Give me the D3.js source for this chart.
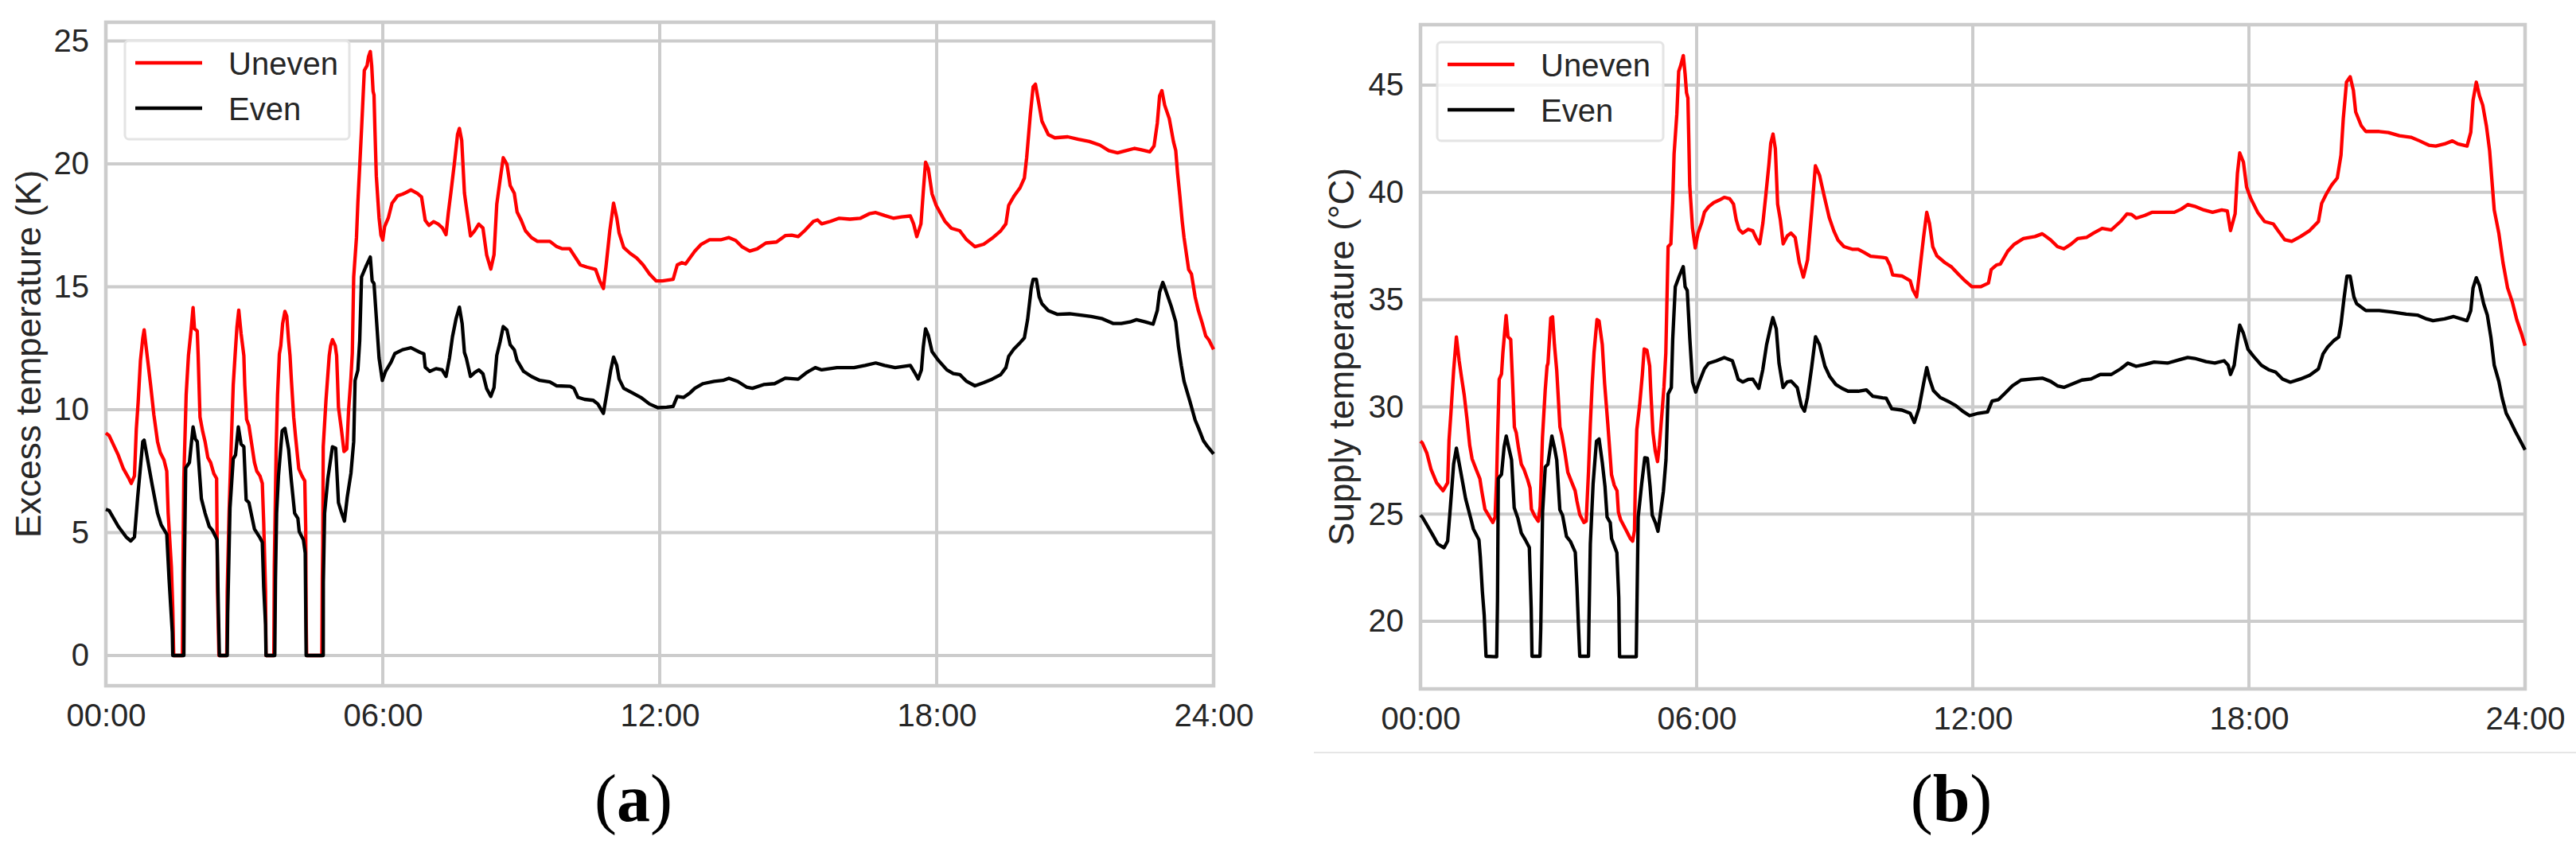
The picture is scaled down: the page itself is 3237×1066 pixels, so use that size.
<!DOCTYPE html>
<html>
<head>
<meta charset="utf-8">
<script src="https://cdn.jsdelivr.net/npm/d3@7"></script>
<style>
  html, body { margin: 0; padding: 0; background: #fff; }
  svg { display: block; }
</style>
</head>
<body>
<svg id="chart" width="3237" height="1066"></svg>
<script>
// =========================
// DATA
// =========================

const hourTicks = [0, 6, 12, 18, 24];
const hourLabels = ['00:00', '06:00', '12:00', '18:00', '24:00'];
const excessTicks = [0, 5, 10, 15, 20, 25];
const supplyTicks = [20, 25, 30, 35, 40, 45];
const seriesNames = ['Uneven', 'Even'];
const seriesColors = ['#ff0000', '#000000'];

// [hour, K]
const excessUneven = [
  [0, 9.05], [0.07, 8.95], [0.27, 8.15], [0.38, 7.6], [0.5, 7.2], [0.55, 7.0], [0.62, 7.3], [0.66, 9.2],
  [0.7, 10.3], [0.75, 12.0], [0.8, 12.9], [0.83, 13.25], [0.87, 12.6], [0.92, 11.8], [0.97, 11.0],
  [1.04, 9.8], [1.12, 8.7], [1.18, 8.25], [1.26, 7.95], [1.32, 7.5], [1.35, 5.8], [1.42, 3.6], [1.45, 1.9],
  [1.47, 0], [1.66, 0], [1.67, 3.3], [1.69, 7.2], [1.74, 10.6], [1.79, 12.2], [1.85, 13.3], [1.89, 14.15],
  [1.92, 13.3], [1.98, 13.2], [2.0, 12.2], [2.04, 9.7], [2.1, 9.1], [2.15, 8.7], [2.21, 8.05], [2.27, 7.85],
  [2.34, 7.4], [2.4, 7.2], [2.41, 4.9], [2.42, 2.6], [2.45, 0], [2.62, 0], [2.63, 2.6], [2.67, 5.8],
  [2.71, 8.2], [2.76, 11.0], [2.8, 12.2], [2.84, 13.35], [2.88, 14.05], [2.93, 13.1], [2.99, 12.2],
  [3.01, 11.0], [3.05, 9.6], [3.1, 9.35], [3.16, 8.6], [3.22, 7.85], [3.27, 7.5], [3.34, 7.3], [3.39, 7.0],
  [3.42, 5.4], [3.46, 2.6], [3.47, 0], [3.64, 0], [3.65, 3.6], [3.69, 8.4], [3.72, 10.6], [3.76, 12.27],
  [3.79, 12.6], [3.83, 13.5], [3.88, 14.0], [3.92, 13.8], [3.96, 12.8], [3.99, 12.2], [4.02, 11.2],
  [4.07, 9.7], [4.11, 8.9], [4.18, 7.6], [4.25, 7.3], [4.31, 7.1], [4.33, 5.2], [4.34, 1.5], [4.35, 0],
  [4.68, 0], [4.69, 3.1], [4.7, 4.5], [4.71, 8.5], [4.77, 10.4], [4.84, 12.2], [4.87, 12.6], [4.91, 12.85],
  [4.97, 12.6], [5.0, 12.2], [5.02, 11.2], [5.04, 10.1], [5.1, 9.25], [5.16, 8.3], [5.22, 8.4], [5.26, 10.0],
  [5.31, 11.3], [5.34, 12.3], [5.37, 15.4], [5.43, 17.0], [5.46, 18.4], [5.5, 19.9], [5.54, 21.4],
  [5.6, 23.8], [5.66, 24.0], [5.69, 24.35], [5.73, 24.57], [5.76, 24.0], [5.79, 22.95], [5.81, 22.8],
  [5.83, 21.4], [5.86, 19.5], [5.92, 17.8], [5.96, 17.1], [6.0, 16.9], [6.04, 17.45], [6.12, 17.8],
  [6.2, 18.4], [6.32, 18.7], [6.43, 18.77], [6.52, 18.85], [6.61, 18.94], [6.75, 18.8], [6.84, 18.65],
  [6.92, 17.7], [7.0, 17.5], [7.1, 17.65], [7.2, 17.55], [7.29, 17.4], [7.37, 17.12], [7.42, 18.0],
  [7.48, 18.9], [7.55, 20.0], [7.62, 21.2], [7.66, 21.44], [7.71, 20.96], [7.77, 18.8], [7.81, 18.25],
  [7.9, 17.07], [7.99, 17.28], [8.08, 17.55], [8.17, 17.39], [8.25, 16.3], [8.34, 15.72], [8.41, 16.3],
  [8.47, 18.36], [8.54, 19.33], [8.61, 20.25], [8.69, 19.98], [8.76, 19.12], [8.85, 18.8], [8.91, 18.04],
  [9.0, 17.7], [9.09, 17.28], [9.22, 17.0], [9.35, 16.85], [9.49, 16.85], [9.62, 16.85], [9.77, 16.63],
  [9.88, 16.55], [10.05, 16.55], [10.19, 16.15], [10.28, 15.89], [10.42, 15.8], [10.61, 15.71],
  [10.7, 15.24], [10.78, 14.93], [10.84, 15.89], [10.92, 17.3], [11.0, 18.4], [11.07, 17.8], [11.12, 17.19],
  [11.22, 16.6], [11.36, 16.36], [11.5, 16.17], [11.64, 15.89], [11.78, 15.52], [11.92, 15.24],
  [12.06, 15.24], [12.29, 15.3], [12.38, 15.89], [12.48, 15.98], [12.56, 15.93], [12.76, 16.45],
  [12.9, 16.73], [13.08, 16.91], [13.32, 16.91], [13.5, 17.0], [13.65, 16.88], [13.78, 16.63],
  [13.95, 16.45], [14.11, 16.54], [14.3, 16.78], [14.53, 16.82], [14.72, 17.08], [14.86, 17.1],
  [15.0, 17.04], [15.14, 17.28], [15.33, 17.66], [15.42, 17.72], [15.51, 17.56], [15.7, 17.66],
  [15.89, 17.79], [16.12, 17.75], [16.35, 17.79], [16.54, 17.97], [16.68, 18.02], [16.87, 17.9],
  [17.06, 17.79], [17.24, 17.84], [17.43, 17.88], [17.5, 17.56], [17.57, 17.04], [17.66, 17.56],
  [17.71, 18.86], [17.76, 20.07], [17.82, 19.8], [17.9, 18.78], [17.99, 18.31], [18.18, 17.66],
  [18.32, 17.38], [18.5, 17.28], [18.65, 16.91], [18.83, 16.63], [19.02, 16.73], [19.2, 16.97],
  [19.39, 17.28], [19.5, 17.56], [19.56, 18.31], [19.67, 18.67], [19.81, 19.04], [19.9, 19.42],
  [19.95, 20.25], [20.03, 22.02], [20.09, 23.13], [20.14, 23.24], [20.22, 22.39], [20.28, 21.74],
  [20.42, 21.19], [20.56, 21.06], [20.84, 21.1], [21.07, 21.0], [21.31, 20.91], [21.54, 20.76],
  [21.73, 20.54], [21.92, 20.45], [22.1, 20.54], [22.29, 20.63], [22.42, 20.58], [22.62, 20.49],
  [22.71, 20.73], [22.78, 21.65], [22.83, 22.76], [22.88, 22.98], [22.94, 22.39], [23.04, 21.84],
  [23.13, 20.91], [23.18, 20.54], [23.22, 19.61], [23.27, 18.68], [23.32, 17.66], [23.36, 17.0],
  [23.46, 15.7], [23.52, 15.52], [23.6, 14.59], [23.67, 14.03], [23.76, 13.48], [23.83, 13.0],
  [23.9, 12.83], [24.0, 12.45]
];

const excessEven = [
  [0, 5.95], [0.07, 5.9], [0.27, 5.25], [0.44, 4.82], [0.54, 4.66], [0.62, 4.82], [0.69, 6.44], [0.8, 8.7],
  [0.83, 8.76], [1.0, 6.98], [1.12, 5.79], [1.2, 5.31], [1.32, 4.93], [1.37, 3.1], [1.44, 0.94], [1.45, 0],
  [1.69, 0], [1.7, 3.3], [1.73, 7.63], [1.81, 7.85], [1.89, 9.3], [1.94, 8.8], [1.98, 8.7], [2.07, 6.38],
  [2.15, 5.79], [2.24, 5.25], [2.31, 5.09], [2.41, 4.71], [2.44, 1.69], [2.46, 0], [2.63, 0], [2.64, 1.7],
  [2.69, 6.0], [2.76, 8.0], [2.81, 8.16], [2.87, 9.3], [2.93, 8.6], [2.99, 8.49], [3.04, 6.33], [3.1, 6.22],
  [3.22, 5.14], [3.33, 4.82], [3.39, 4.6], [3.42, 2.77], [3.46, 1.26], [3.47, 0], [3.66, 0], [3.675, 3.1],
  [3.7, 5.79], [3.74, 7.3], [3.82, 9.14], [3.88, 9.24], [3.96, 8.38], [4.02, 7.09], [4.09, 5.79],
  [4.16, 5.58], [4.19, 5.04], [4.28, 4.71], [4.32, 4.17], [4.34, 0], [4.71, 0], [4.712, 2.98], [4.74, 5.79],
  [4.81, 7.2], [4.91, 8.49], [4.98, 8.43], [5.04, 6.22], [5.11, 5.79], [5.17, 5.47], [5.23, 6.44],
  [5.31, 7.41], [5.37, 8.7], [5.4, 11.19], [5.46, 11.6], [5.5, 12.8], [5.54, 15.4], [5.63, 15.8],
  [5.73, 16.21], [5.77, 15.24], [5.81, 15.13], [5.92, 12.1], [5.99, 11.19], [6.06, 11.56], [6.18, 11.94],
  [6.26, 12.28], [6.43, 12.44], [6.61, 12.52], [6.81, 12.33], [6.89, 12.27], [6.92, 11.73], [7.02, 11.56],
  [7.155, 11.67], [7.285, 11.62], [7.37, 11.35], [7.445, 12.1], [7.51, 12.97], [7.59, 13.72], [7.66, 14.17],
  [7.72, 13.5], [7.77, 12.32], [7.81, 12.1], [7.9, 11.35], [7.99, 11.51], [8.08, 11.62], [8.17, 11.46],
  [8.25, 10.86], [8.34, 10.54], [8.41, 10.9], [8.47, 12.21], [8.54, 12.75], [8.61, 13.38], [8.69, 13.24],
  [8.76, 12.64], [8.85, 12.43], [8.91, 12.0], [9.05, 11.56], [9.22, 11.35], [9.4, 11.19], [9.62, 11.13],
  [9.77, 10.97], [10.06, 10.95], [10.14, 10.87], [10.23, 10.5], [10.37, 10.42], [10.56, 10.38],
  [10.66, 10.23], [10.78, 9.85], [10.84, 10.5], [10.94, 11.62], [11.0, 12.14], [11.07, 11.8],
  [11.12, 11.25], [11.22, 10.87], [11.4, 10.69], [11.59, 10.5], [11.78, 10.23], [11.96, 10.08],
  [12.15, 10.1], [12.29, 10.13], [12.38, 10.54], [12.52, 10.5], [12.66, 10.69], [12.76, 10.87],
  [12.94, 11.06], [13.18, 11.15], [13.37, 11.19], [13.5, 11.28], [13.69, 11.15], [13.88, 10.92],
  [14.01, 10.87], [14.25, 11.02], [14.49, 11.06], [14.72, 11.28], [15.0, 11.24], [15.19, 11.52],
  [15.37, 11.71], [15.51, 11.62], [15.84, 11.71], [16.21, 11.71], [16.45, 11.8], [16.68, 11.9],
  [16.87, 11.8], [17.1, 11.71], [17.43, 11.8], [17.52, 11.52], [17.6, 11.25], [17.67, 11.62],
  [17.71, 12.55], [17.76, 13.29], [17.82, 13.02], [17.9, 12.36], [18.04, 12.0], [18.22, 11.62],
  [18.36, 11.47], [18.5, 11.43], [18.65, 11.15], [18.83, 10.97], [19.02, 11.1], [19.2, 11.24],
  [19.39, 11.43], [19.5, 11.71], [19.56, 12.17], [19.67, 12.46], [19.81, 12.73], [19.9, 12.92],
  [19.97, 13.66], [20.05, 14.96], [20.09, 15.3], [20.16, 15.3], [20.22, 14.6], [20.28, 14.31],
  [20.42, 14.03], [20.61, 13.88], [20.88, 13.9], [21.12, 13.85], [21.35, 13.79], [21.59, 13.7],
  [21.82, 13.51], [22.0, 13.51], [22.19, 13.57], [22.33, 13.66], [22.52, 13.57], [22.69, 13.48],
  [22.78, 14.03], [22.83, 14.78], [22.9, 15.18], [22.96, 14.87], [23.08, 14.22], [23.18, 13.57],
  [23.24, 12.55], [23.3, 11.8], [23.36, 11.15], [23.49, 10.32], [23.6, 9.58], [23.68, 9.22],
  [23.78, 8.74], [23.85, 8.55], [24.0, 8.2]
];

// [hour, °C]
const supplyUneven = [
  [0, 28.4], [0.04, 28.32], [0.14, 27.83], [0.23, 27.08], [0.35, 26.46], [0.49, 26.09], [0.59, 26.46],
  [0.62, 28.44], [0.66, 29.68], [0.72, 31.7], [0.78, 33.26], [0.84, 32.15], [0.89, 31.4], [0.95, 30.55],
  [1.01, 29.44], [1.07, 28.2], [1.12, 27.58], [1.21, 27.08], [1.29, 26.65], [1.33, 26.09], [1.4, 25.23],
  [1.47, 24.98], [1.57, 24.61], [1.62, 24.86], [1.655, 26.7], [1.673, 28.44], [1.71, 31.28], [1.76, 31.53],
  [1.79, 32.52], [1.86, 34.26], [1.9, 33.27], [1.96, 33.14], [2.0, 31.2], [2.04, 29.06], [2.08, 28.8],
  [2.13, 28.07], [2.19, 27.33], [2.25, 27.08], [2.33, 26.59], [2.38, 26.22], [2.41, 25.23], [2.48, 24.92],
  [2.56, 24.67], [2.6, 25.35], [2.65, 28.57], [2.71, 30.79], [2.75, 31.9], [2.77, 32.03], [2.83, 34.14],
  [2.87, 34.2], [2.91, 32.9], [2.96, 31.7], [3.03, 29.06], [3.07, 28.7], [3.14, 27.83], [3.2, 26.96],
  [3.29, 26.46], [3.36, 26.09], [3.4, 25.6], [3.46, 24.98], [3.55, 24.61], [3.6, 24.67], [3.65, 26.96],
  [3.69, 29.2], [3.73, 31.04], [3.77, 32.52], [3.835, 34.07], [3.88, 34.0], [3.95, 32.9], [4.0, 31.1],
  [4.07, 29.2], [4.15, 26.84], [4.21, 26.34], [4.27, 26.09], [4.3, 25.1], [4.35, 24.73], [4.47, 24.24],
  [4.56, 23.86], [4.61, 23.74], [4.65, 24.24], [4.67, 26.7], [4.7, 28.94], [4.76, 30.05], [4.82, 31.5],
  [4.86, 32.7], [4.92, 32.64], [4.98, 31.9], [5.0, 30.9], [5.05, 28.82], [5.1, 27.95], [5.15, 27.45],
  [5.19, 28.2], [5.25, 29.8], [5.29, 30.92], [5.33, 32.5], [5.38, 37.47], [5.44, 37.6], [5.48, 39.58],
  [5.51, 41.8], [5.57, 43.66], [5.61, 45.64], [5.65, 45.89], [5.71, 46.38], [5.75, 45.5], [5.78, 44.65],
  [5.81, 44.4], [5.83, 42.42], [5.85, 40.32], [5.91, 38.34], [5.97, 37.41], [6.03, 38.1], [6.11, 38.59],
  [6.17, 39.08], [6.26, 39.33], [6.37, 39.52], [6.49, 39.64], [6.6, 39.77], [6.72, 39.7], [6.8, 39.46],
  [6.86, 38.72], [6.92, 38.28], [7.0, 38.1], [7.12, 38.28], [7.22, 38.21], [7.3, 37.84], [7.37, 37.6],
  [7.44, 38.58], [7.5, 39.81], [7.57, 41.3], [7.61, 42.29], [7.66, 42.72], [7.71, 42.04], [7.76, 39.45],
  [7.82, 38.7], [7.88, 37.6], [7.97, 37.97], [8.05, 38.1], [8.14, 37.9], [8.23, 36.73], [8.32, 36.05],
  [8.41, 36.85], [8.5, 39.08], [8.58, 41.24], [8.67, 40.8], [8.76, 39.94], [8.88, 38.83], [8.98, 38.21],
  [9.07, 37.78], [9.2, 37.47], [9.38, 37.35], [9.51, 37.35], [9.64, 37.2], [9.78, 37.02], [10.04, 36.97],
  [10.12, 36.94], [10.2, 36.6], [10.26, 36.15], [10.46, 36.1], [10.64, 35.88], [10.7, 35.45],
  [10.78, 35.13], [10.84, 36.2], [10.93, 37.9], [11.0, 39.07], [11.06, 38.55], [11.13, 37.47],
  [11.22, 37.04], [11.39, 36.73], [11.54, 36.52], [11.68, 36.2], [11.83, 35.88], [11.98, 35.6],
  [12.17, 35.6], [12.34, 35.77], [12.4, 36.4], [12.52, 36.62], [12.6, 36.66], [12.76, 37.26],
  [12.9, 37.58], [13.1, 37.85], [13.35, 37.94], [13.51, 38.07], [13.69, 37.79], [13.84, 37.47],
  [13.98, 37.37], [14.13, 37.58], [14.28, 37.85], [14.47, 37.9], [14.62, 38.1], [14.81, 38.32],
  [15.01, 38.25], [15.21, 38.64], [15.35, 39.0], [15.45, 38.97], [15.55, 38.8], [15.74, 38.93],
  [15.89, 39.07], [16.13, 39.07], [16.38, 39.07], [16.53, 39.22], [16.67, 39.43], [16.82, 39.35],
  [17.02, 39.18], [17.21, 39.07], [17.41, 39.18], [17.53, 39.14], [17.6, 38.22], [17.7, 39.0],
  [17.75, 40.88], [17.8, 41.84], [17.88, 41.41], [17.95, 40.24], [18.04, 39.72], [18.19, 39.07],
  [18.34, 38.64], [18.53, 38.53], [18.63, 38.22], [18.78, 37.79], [18.93, 37.72], [19.12, 37.94],
  [19.32, 38.22], [19.51, 38.64], [19.58, 39.49], [19.68, 39.92], [19.8, 40.35], [19.92, 40.67],
  [20.0, 41.73], [20.05, 43.43], [20.12, 45.14], [20.2, 45.39], [20.27, 44.75], [20.32, 43.75],
  [20.44, 43.11], [20.54, 42.84], [20.83, 42.84], [21.03, 42.79], [21.27, 42.64], [21.52, 42.57],
  [21.71, 42.4], [21.91, 42.2], [22.06, 42.16], [22.25, 42.26], [22.42, 42.4], [22.54, 42.26],
  [22.74, 42.16], [22.82, 42.8], [22.87, 44.29], [22.94, 45.14], [23.01, 44.5], [23.08, 44.07],
  [23.16, 43.1], [23.23, 41.94], [23.33, 39.18], [23.43, 38.1], [23.52, 36.73], [23.62, 35.55],
  [23.72, 34.91], [23.82, 34.06], [23.92, 33.43], [24.0, 32.85]
];

const supplyEven = [
  [0, 24.95], [0.04, 24.86], [0.26, 24.05], [0.375, 23.61], [0.51, 23.43], [0.59, 23.74], [0.65, 25.35],
  [0.72, 27.33], [0.78, 28.07], [0.865, 27.08], [0.98, 25.72], [1.1, 24.73], [1.15, 24.3], [1.27, 23.8],
  [1.3, 23.0], [1.344, 21.4], [1.384, 20.29], [1.424, 18.37], [1.655, 18.35], [1.673, 20.97],
  [1.69, 26.66], [1.76, 26.85], [1.817, 28.14], [1.863, 28.64], [1.92, 28.08], [1.978, 27.53],
  [2.036, 25.3], [2.117, 24.8], [2.19, 24.12], [2.278, 23.8], [2.365, 23.44], [2.405, 20.6],
  [2.423, 18.37], [2.596, 18.37], [2.613, 19.67], [2.653, 25.1], [2.711, 27.2], [2.769, 27.33],
  [2.855, 28.64], [2.913, 28.07], [2.96, 27.53], [3.028, 25.2], [3.086, 24.95], [3.172, 23.96],
  [3.26, 23.72], [3.363, 23.22], [3.4, 21.6], [3.43, 19.9], [3.46, 18.37], [3.65, 18.37], [3.66, 19.9],
  [3.69, 23.6], [3.75, 26.4], [3.823, 28.4], [3.88, 28.5], [3.95, 27.4], [4.008, 26.3], [4.054, 24.86],
  [4.123, 24.6], [4.152, 23.86], [4.227, 23.43], [4.267, 23.2], [4.308, 21.1], [4.325, 18.35],
  [4.688, 18.35], [4.7, 20.29], [4.73, 24.86], [4.805, 26.4], [4.873, 27.63], [4.93, 27.6],
  [4.988, 26.3], [5.035, 24.95], [5.104, 24.6], [5.16, 24.2], [5.208, 24.95], [5.277, 26.05],
  [5.334, 27.53], [5.38, 30.6], [5.45, 30.9], [5.48, 33.14], [5.536, 35.6], [5.623, 36.1],
  [5.709, 36.54], [5.75, 35.6], [5.796, 35.43], [5.853, 33.14], [5.911, 31.16], [5.98, 30.69],
  [6.055, 31.16], [6.17, 31.78], [6.257, 32.03], [6.43, 32.15], [6.6, 32.3], [6.776, 32.15],
  [6.834, 31.77], [6.903, 31.28], [7.0, 31.16], [7.12, 31.28], [7.22, 31.29], [7.35, 30.86],
  [7.436, 31.72], [7.52, 32.9], [7.61, 33.76], [7.656, 34.16], [7.73, 33.64], [7.79, 32.03],
  [7.877, 30.9], [7.965, 31.16], [8.054, 31.2], [8.186, 30.9], [8.275, 30.05], [8.344, 29.8],
  [8.406, 30.42], [8.495, 31.78], [8.583, 33.27], [8.67, 32.9], [8.787, 31.9], [8.89, 31.42],
  [9.024, 31.04], [9.16, 30.86], [9.29, 30.73], [9.51, 30.73], [9.687, 30.79], [9.83, 30.49],
  [10.04, 30.42], [10.12, 30.4], [10.24, 29.91], [10.46, 29.85], [10.64, 29.7], [10.73, 29.27],
  [10.83, 29.93], [10.93, 31.08], [11.0, 31.83], [11.06, 31.3], [11.145, 30.76], [11.29, 30.44],
  [11.49, 30.23], [11.63, 30.06], [11.78, 29.8], [11.93, 29.59], [12.12, 29.7], [12.32, 29.76],
  [12.42, 30.27], [12.56, 30.34], [12.71, 30.66], [12.86, 30.98], [13.05, 31.25], [13.3, 31.3],
  [13.51, 31.34], [13.69, 31.19], [13.84, 30.98], [13.98, 30.91], [14.18, 31.08], [14.37, 31.25],
  [14.57, 31.3], [14.77, 31.51], [15.01, 31.51], [15.21, 31.77], [15.37, 32.04], [15.55, 31.89],
  [15.74, 31.98], [15.94, 32.09], [16.23, 32.04], [16.48, 32.19], [16.67, 32.3], [16.82, 32.26],
  [17.07, 32.11], [17.26, 32.04], [17.46, 32.15], [17.55, 31.94], [17.6, 31.51], [17.68, 31.94],
  [17.75, 33.1], [17.8, 33.81], [17.88, 33.43], [17.98, 32.68], [18.1, 32.36], [18.27, 31.94],
  [18.44, 31.72], [18.58, 31.62], [18.73, 31.3], [18.9, 31.15], [19.12, 31.3], [19.32, 31.47],
  [19.51, 31.77], [19.61, 32.47], [19.71, 32.79], [19.85, 33.1], [19.95, 33.25], [20.0, 33.85],
  [20.07, 35.13], [20.13, 36.09], [20.2, 36.09], [20.28, 35.13], [20.34, 34.81], [20.54, 34.49],
  [20.83, 34.49], [21.13, 34.42], [21.42, 34.32], [21.66, 34.28], [21.86, 34.1], [22.0, 34.02],
  [22.25, 34.1], [22.45, 34.21], [22.74, 34.02], [22.82, 34.49], [22.87, 35.55], [22.94, 36.02],
  [23.01, 35.66], [23.1, 34.81], [23.18, 34.28], [23.26, 33.21], [23.33, 31.94], [23.43, 31.19],
  [23.5, 30.44], [23.59, 29.7], [23.67, 29.38], [23.79, 28.85], [23.88, 28.49], [24.0, 28.0]
];

// =========================
// DRAW
// =========================

const svg = d3.select('#chart');
const fontSans = '"Liberation Sans", Arial, Helvetica, sans-serif';
const textColor = '#262626';
const gridColor = '#cccccc';

function createPanel(opts) {

  const x = d3.scaleLinear()
    .domain([0, 24])
    .range([opts.left, opts.right]);

  const y = d3.scaleLinear()
    .domain(opts.yDomain)
    .range([opts.bottom, opts.top]);

  const g = svg.append('g');

  // grid
  g.selectAll('.hgrid')
    .data(opts.yTicks)
    .join('line')
    .attr('x1', opts.left)
    .attr('x2', opts.right)
    .attr('y1', d => y(d))
    .attr('y2', d => y(d))
    .attr('stroke', gridColor)
    .attr('stroke-width', 4);

  g.selectAll('.vgrid')
    .data(hourTicks)
    .join('line')
    .attr('x1', d => x(d))
    .attr('x2', d => x(d))
    .attr('y1', opts.top)
    .attr('y2', opts.bottom)
    .attr('stroke', gridColor)
    .attr('stroke-width', 4);

  // frame
  g.append('rect')
    .attr('x', opts.left)
    .attr('y', opts.top)
    .attr('width', opts.right - opts.left)
    .attr('height', opts.bottom - opts.top)
    .attr('fill', 'none')
    .attr('stroke', gridColor)
    .attr('stroke-width', 4.5);

  // axes (labels only)
  const yAxis = g.append('g')
    .attr('transform', `translate(${opts.left}, 0)`)
    .call(d3.axisLeft(y).tickValues(opts.yTicks).tickSize(0).tickPadding(21));

  const xAxis = g.append('g')
    .attr('transform', `translate(0, ${opts.bottom})`)
    .call(d3.axisBottom(x).tickValues(hourTicks).tickSize(0).tickPadding(23)
      .tickFormat((d, i) => hourLabels[i]));

  [yAxis, xAxis].forEach(ax => {
    ax.select('.domain').remove();
    ax.selectAll('text')
      .attr('fill', textColor)
      .style('font-family', fontSans)
      .style('font-size', '40px');
  });

  // y label
  g.append('text')
    .attr('transform', `translate(${opts.labelX}, ${(opts.top + opts.bottom) / 2}) rotate(-90)`)
    .attr('text-anchor', 'middle')
    .attr('fill', textColor)
    .style('font-family', fontSans)
    .style('font-size', '44px')
    .text(opts.yLabel);

  // lines
  const line = d3.line()
    .x(d => x(d[0]))
    .y(d => y(d[1]));

  opts.series.forEach((data, i) => {
    g.append('path')
      .datum(data)
      .attr('d', line)
      .attr('fill', 'none')
      .attr('stroke', seriesColors[i])
      .attr('stroke-width', 4.3)
      .attr('stroke-linejoin', 'round');
  });

  // legend
  const lg = opts.legend;
  g.append('rect')
    .attr('x', lg.x)
    .attr('y', lg.y)
    .attr('width', lg.w)
    .attr('height', lg.h)
    .attr('rx', 5)
    .attr('fill', '#ffffff')
    .attr('fill-opacity', 0.8)
    .attr('stroke', '#e4e4e4')
    .attr('stroke-width', 3);

  seriesNames.forEach((name, i) => {
    const ly = lg.y + 28 + i * 57;
    g.append('line')
      .attr('x1', lg.x + 13)
      .attr('x2', lg.x + 97)
      .attr('y1', ly)
      .attr('y2', ly)
      .attr('stroke', seriesColors[i])
      .attr('stroke-width', 4.3);

    g.append('text')
      .attr('x', lg.x + 130)
      .attr('y', ly + 14.5)
      .attr('fill', textColor)
      .style('font-family', fontSans)
      .style('font-size', '40px')
      .text(name);
  });

  // sub caption
  const cap = g.append('text')
    .attr('x', opts.capX)
    .attr('y', 1032)
    .attr('text-anchor', 'middle')
    .attr('fill', '#000')
    .style('font-family', '"Liberation Serif", "Times New Roman", serif')
    .style('font-size', '84px');
  cap.append('tspan').text('(');
  cap.append('tspan').style('font-weight', 'bold').text(opts.cap);
  cap.append('tspan').text(')');
}

createPanel({
  left: 133, right: 1525, top: 28, bottom: 862,
  yDomain: [-1.23, 25.76],
  yTicks: excessTicks,
  yLabel: 'Excess temperature (K)',
  labelX: 51,
  series: [excessUneven, excessEven],
  legend: { x: 157, y: 51, w: 282, h: 124 },
  capX: 796, cap: 'a'
});

createPanel({
  left: 1785, right: 3173, top: 31, bottom: 866,
  yDomain: [16.85, 47.82],
  yTicks: supplyTicks,
  yLabel: 'Supply temperature (°C)',
  labelX: 1701,
  series: [supplyUneven, supplyEven],
  legend: { x: 1806, y: 53, w: 284, h: 124 },
  capX: 2452, cap: 'b'
});

// separator under panel (b)
svg.append('line')
  .attr('x1', 1651)
  .attr('x2', 3237)
  .attr('y1', 946)
  .attr('y2', 946)
  .attr('stroke', '#e6e6e6')
  .attr('stroke-width', 2);
</script>
</body>
</html>
